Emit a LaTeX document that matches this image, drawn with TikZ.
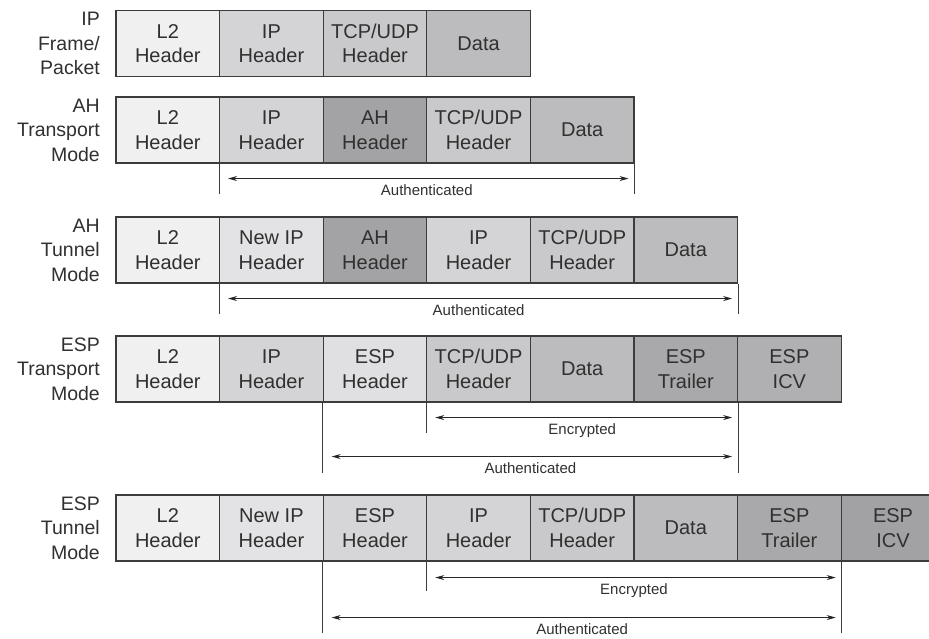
\documentclass[tikz,border=0pt]{standalone}
\usepackage{fontspec}
\setmainfont{Liberation Sans}
\usetikzlibrary{arrows.meta,calc}
\definecolor{bordercol}{HTML}{3C3C3C}
\definecolor{textcol}{HTML}{303030}
\definecolor{cL}{HTML}{F0F0F0}
\definecolor{cIP}{HTML}{D4D4D6}
\definecolor{cNIP}{HTML}{E3E3E5}
\definecolor{cTCP}{HTML}{C9C9CB}
\definecolor{cData}{HTML}{BCBCBE}
\definecolor{cAH}{HTML}{A3A3A5}
\definecolor{cESPa}{HTML}{E0E0E2}
\definecolor{cESPb}{HTML}{D6D6D8}
\definecolor{cTr}{HTML}{A9A9AB}
\definecolor{cICVa}{HTML}{B0B0B2}
\definecolor{cICVb}{HTML}{A2A2A4}
\begin{document}
\begin{tikzpicture}[x=1pt,y=-1pt,
  cell/.style={draw=bordercol, line width=1.1pt, minimum width=103.6pt, minimum height=66pt,
    inner sep=0pt, align=center, font=\fontsize{20}{24.5}\selectfont, text=textcol},
  rowlabel/.style={anchor=east, align=right, inner sep=0pt, font=\fontsize{19.5}{24.5}\selectfont, text=textcol},
  guide/.style={draw=bordercol, line width=0.9pt},
  span/.style={draw=black!85, line width=0.9pt, {Stealth[length=9pt,width=5pt]}-{Stealth[length=9pt,width=5pt]},
    shorten <=9pt, shorten >=6pt},
  spanlabel/.style={font=\fontsize{15}{17}\selectfont, text=textcol, inner sep=0pt}
]
\useasboundingbox (0,0) rectangle (929,639);
\clip (0,0) rectangle (929,639);

% Row 1
\node[rowlabel] (lab1) at (100,43.5) {IP\\Frame/\\Packet};
\node[cell, fill=cL]    (r1c1) at (167.8,43.5) {L2\\Header};
\node[cell, fill=cIP]   (r1c2) at (271.4,43.5) {IP\\Header};
\node[cell, fill=cTCP]  (r1c3) at (375.0,43.5) {TCP/UDP\\Header};
\node[cell, fill=cData] (r1c4) at (478.6,43.5) {Data};

% Row 2
\node[rowlabel] (lab2) at (100,130) {AH\\Transport\\Mode};
\node[cell, fill=cL]    (r2c1) at (167.8,130) {L2\\Header};
\node[cell, fill=cIP]   (r2c2) at (271.4,130) {IP\\Header};
\node[cell, fill=cAH]   (r2c3) at (375.0,130) {AH\\Header};
\node[cell, fill=cTCP]  (r2c4) at (478.6,130) {TCP/UDP\\Header};
\node[cell, fill=cData] (r2c5) at (582.2,130) {Data};
\draw[guide] (r2c2.south west) -- ++(0,30) coordinate (g2a);
\draw[guide] (r2c5.south east) -- ++(0,30) coordinate (g2b);
\draw[span] ([yshift=-15pt]r2c2.south west) -- ([yshift=-15pt]r2c5.south east)
  node[midway, below=6pt, spanlabel] (a2) {Authenticated};

% Row 3
\node[rowlabel] (lab3) at (100,250) {AH\\Tunnel\\Mode};
\node[cell, fill=cL]    (r3c1) at (167.8,250) {L2\\Header};
\node[cell, fill=cNIP]  (r3c2) at (271.4,250) {New IP\\Header};
\node[cell, fill=cAH]   (r3c3) at (375.0,250) {AH\\Header};
\node[cell, fill=cIP]   (r3c4) at (478.6,250) {IP\\Header};
\node[cell, fill=cTCP]  (r3c5) at (582.2,250) {TCP/UDP\\Header};
\node[cell, fill=cData] (r3c6) at (685.8,250) {Data};
\draw[guide] (r3c2.south west) -- ++(0,30) coordinate (g3a);
\draw[guide] (r3c6.south east) -- ++(0,30) coordinate (g3b);
\draw[span] ([yshift=-15pt]r3c2.south west) -- ([yshift=-15pt]r3c6.south east)
  node[midway, below=6pt, spanlabel] (a3) {Authenticated};

% Row 4
\node[rowlabel] (lab4) at (100,369) {ESP\\Transport\\Mode};
\node[cell, fill=cL]    (r4c1) at (167.8,369) {L2\\Header};
\node[cell, fill=cIP]   (r4c2) at (271.4,369) {IP\\Header};
\node[cell, fill=cESPa] (r4c3) at (375.0,369) {ESP\\Header};
\node[cell, fill=cTCP]  (r4c4) at (478.6,369) {TCP/UDP\\Header};
\node[cell, fill=cData] (r4c5) at (582.2,369) {Data};
\node[cell, fill=cTr]   (r4c6) at (685.8,369) {ESP\\Trailer};
\node[cell, fill=cICVa] (r4c7) at (789.4,369) {ESP\\ICV};
\draw[guide] (r4c4.south west) -- ++(0,30) coordinate (g4e);
\draw[guide] (r4c3.south west) -- ++(0,70) coordinate (g4a);
\draw[guide] (r4c6.south east) -- ++(0,70) coordinate (g4b);
\draw[span] ([yshift=-15pt]r4c4.south west) -- ([yshift=-15pt]r4c6.south east)
  node[midway, below=6pt, spanlabel] (e4) {Encrypted};
\draw[span] ([yshift=-54pt]r4c3.south west) -- ([yshift=-54pt]r4c6.south east)
  node[midway, below=6pt, spanlabel] (a4) {Authenticated};

% Row 5
\node[rowlabel] (lab5) at (100,528) {ESP\\Tunnel\\Mode};
\node[cell, fill=cL]    (r5c1) at (167.8,528) {L2\\Header};
\node[cell, fill=cNIP]  (r5c2) at (271.4,528) {New IP\\Header};
\node[cell, fill=cESPb] (r5c3) at (375.0,528) {ESP\\Header};
\node[cell, fill=cIP]   (r5c4) at (478.6,528) {IP\\Header};
\node[cell, fill=cTCP]  (r5c5) at (582.2,528) {TCP/UDP\\Header};
\node[cell, fill=cData] (r5c6) at (685.8,528) {Data};
\node[cell, fill=cTr]   (r5c7) at (789.4,528) {ESP\\Trailer};
\node[cell, fill=cICVb] (r5c8) at (893.0,528) {ESP\\ICV};
\draw[guide] (r5c4.south west) -- ++(0,29) coordinate (g5e);
\draw[guide] (r5c3.south west) -- ++(0,71) coordinate (g5a);
\draw[guide] (r5c7.south east) -- ++(0,71) coordinate (g5b);
\draw[span] ([yshift=-16pt]r5c4.south west) -- ([yshift=-16pt]r5c7.south east)
  node[midway, below=6pt, spanlabel] (e5) {Encrypted};
\draw[span] ([yshift=-56pt]r5c3.south west) -- ([yshift=-56pt]r5c7.south east)
  node[midway, below=6pt, spanlabel] (a5) {Authenticated};
\end{tikzpicture}
\end{document}
